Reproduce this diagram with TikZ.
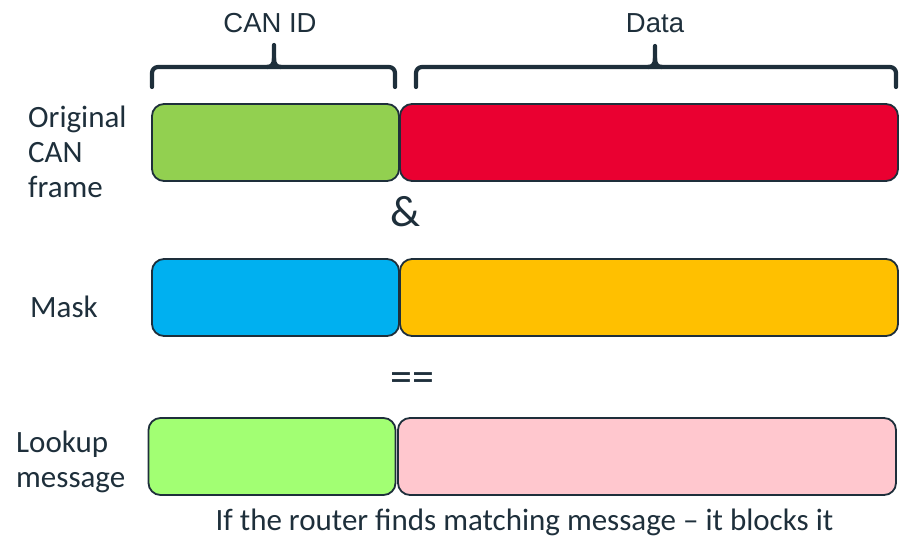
\documentclass[tikz,border=0pt]{standalone}
\usepackage{fontspec}
\setmainfont{Carlito}
\newfontfamily\arialfont{Liberation Sans}
\definecolor{ink}{HTML}{1E2F3B}
\definecolor{cgreen}{HTML}{92D050}
\definecolor{cred}{HTML}{EA0031}
\definecolor{cblue}{HTML}{00B0F0}
\definecolor{corange}{HTML}{FFC000}
\definecolor{clgreen}{HTML}{A2FF73}
\definecolor{cpink}{HTML}{FFC7CE}
\begin{document}
\begin{tikzpicture}[x=1pt,y=-1pt,
  field/.style={draw=ink, line width=1.8pt, rounded corners=12pt, inner sep=0pt, minimum height=77pt},
  idfield/.style={field, minimum width=247pt},
  datafield/.style={field, minimum width=498pt},
  lbl/.style={text=ink, font=\fontsize{31}{35}\selectfont, inner sep=0pt, align=left},
  toplbl/.style={text=ink, font=\arialfont\fontsize{27.5}{30}\selectfont, inner sep=0pt},
  op/.style={text=ink, font=\fontsize{44}{48}\selectfont, inner sep=0pt},
  brace/.style={draw=ink, line width=4.2pt, line cap=round, line join=round}]
\useasboundingbox (0,0) rectangle (902,537);
% boxes
\node[idfield, fill=cgreen] (id1) at (275.5,142.5) {};
\node[datafield, fill=cred] (d1) at (649,142.5) {};
\node[idfield, fill=cblue] (id2) at (275.5,297.5) {};
\node[datafield, fill=corange] (d2) at (649,297.5) {};
\node[idfield, fill=clgreen] (id3) at (272,456.5) {};
\node[datafield, fill=cpink] (d3) at (647,456.5) {};
% labels
\node[lbl, anchor=base west] (l1) at (28,198) {Original\\CAN\\frame};
\node[lbl, anchor=base west] (l2) at (30,317) {Mask};
\node[lbl, anchor=base west] (l3) at (16,487) {Lookup\\message};
\node[toplbl, anchor=base] (tid) at (270,33) {CAN ID};
\node[toplbl, anchor=base] (tdata) at (655,33) {Data};
\node[op, anchor=base] (amp) at (406,227) {\&};
\node[op] (eq) at (412,382) {==};
\node[lbl, anchor=base] (note) at (524.5,530) {If the router finds matching message – it blocks it};
% braces
\draw[brace, rounded corners=6pt] (152,87) -- (152,67) -- (395,67) -- (395,87);
\draw[brace] (267,67) .. controls (272,67) and (274,64) .. (274,58) -- (274,45);
\draw[brace] (281,67) .. controls (276,67) and (274,64) .. (274,58);
\draw[brace, rounded corners=6pt] (416,87) -- (416,67) -- (896,67) -- (896,87);
\draw[brace] (648,67) .. controls (653,67) and (655,64) .. (655,58) -- (655,46);
\draw[brace] (662,67) .. controls (657,67) and (655,64) .. (655,58);
\end{tikzpicture}
\end{document}
